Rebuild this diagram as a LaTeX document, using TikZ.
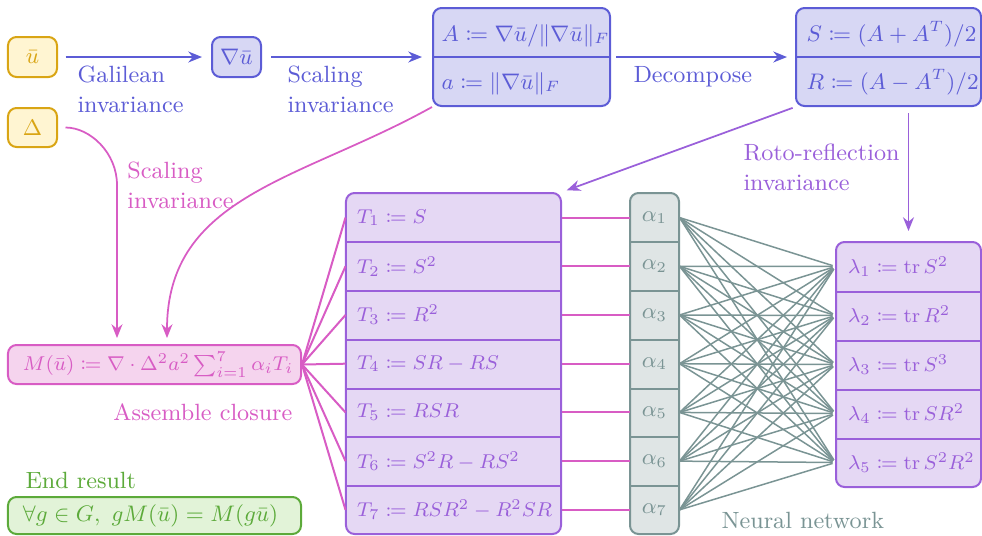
\documentclass[tikz,border=0pt]{standalone}
\usepackage{amsmath,amssymb,mathtools}
\usetikzlibrary{arrows.meta}
\definecolor{cyl}{HTML}{D9A514}
\definecolor{cylf}{HTML}{FFF5D2}
\definecolor{cbl}{HTML}{5C5CD6}
\definecolor{cblf}{HTML}{D7D7F4}
\definecolor{cpu}{HTML}{9A60DA}
\definecolor{cpuf}{HTML}{E5D8F4}
\definecolor{cmg}{HTML}{D85CC4}
\definecolor{cmgf}{HTML}{F5D4EE}
\definecolor{cgy}{HTML}{7A9494}
\definecolor{cgyf}{HTML}{DFE5E5}
\definecolor{cgn}{HTML}{5CAA3A}
\definecolor{cgnf}{HTML}{E2F3D8}
\begin{document}
\begin{tikzpicture}[x=0.4pt,y=-0.4pt,
  font=\fontsize{9.4pt}{12pt}\selectfont,
  frame/.style={draw, rounded corners=3.4pt, line width=0.8pt, inner sep=0pt},
  lbl/.style={anchor=north west, inner sep=0pt, align=left},
  arr/.style={line width=0.7pt, -{Stealth[length=5.5pt,width=4.4pt,inset=1.8pt]}},
  conn/.style={line width=0.8pt},
  nn/.style={line width=0.6pt},
  sep/.style={line width=0.8pt},
  trow/.style={minimum width=86pt, minimum height=19.49pt, inner xsep=4.4pt, inner ysep=0pt, text width=77.2pt, align=left, text=cpu, font=\fontsize{8.5pt}{10pt}\selectfont},
  arow/.style={minimum width=19.6pt, minimum height=19.49pt, inner sep=0pt, text=cgy, font=\fontsize{9pt}{10pt}\selectfont},
  lrow/.style={minimum width=58pt, minimum height=19.6pt, inner xsep=4.8pt, inner ysep=0pt, text width=48.4pt, align=left, text=cpu, font=\fontsize{8.2pt}{10pt}\selectfont},
  wide/.style={frame, minimum width=117.2pt, inner xsep=6pt, text width=105.2pt, align=left}
]
\useasboundingbox (0,0) rectangle (982,535);

% top row
\node[frame, draw=cyl, fill=cylf, text=cyl, minimum width=19.6pt, minimum height=16pt] (u) at (32.5,57) {$\bar u$};
\node[frame, draw=cyl, fill=cylf, text=cyl, minimum width=19.6pt, minimum height=15.6pt] (d) at (32.5,127.5) {$\Delta$};
\node[frame, draw=cbl, fill=cblf, text=cbl, minimum width=19.6pt, minimum height=16pt] (gu) at (236.5,57) {$\nabla\bar u$};

\node[frame, draw=cbl, fill=cblf, minimum width=70.8pt, minimum height=39.2pt] (ab) at (521.5,57) {};
\draw[cbl, sep] (ab.west) -- (ab.east);
\node[anchor=base west, inner sep=0pt, text=cbl, font=\fontsize{9.2pt}{11pt}\selectfont] (ab1) at (441,41) {$A \coloneqq \nabla\bar u/\|\nabla\bar u\|_F$};
\node[anchor=base west, inner sep=0pt, text=cbl, font=\fontsize{9.2pt}{11pt}\selectfont] (ab2) at (441,89) {$a \coloneqq \|\nabla\bar u\|_F$};

\node[frame, draw=cbl, fill=cblf, minimum width=74pt, minimum height=39.2pt] (sr) at (888.5,57) {};
\draw[cbl, sep] (sr.west) -- (sr.east);
\node[anchor=base west, inner sep=0pt, text=cbl, font=\fontsize{9pt}{11pt}\selectfont] (sr1) at (806,41) {$S \coloneqq (A+A^T)/2$};
\node[anchor=base west, inner sep=0pt, text=cbl, font=\fontsize{9pt}{11pt}\selectfont] (sr2) at (806,89) {$R \coloneqq (A-A^T)/2$};

% T box
\node[frame, draw=cpu, fill=cpuf, minimum width=86pt, minimum height=136.4pt] (tb) at (453.5,363.5) {};
\foreach \i/\txt in {1/{T_1 \coloneqq S}, 2/{T_2 \coloneqq S^2}, 3/{T_3 \coloneqq R^2}, 4/{T_4 \coloneqq SR-RS}, 5/{T_5 \coloneqq RSR}, 6/{T_6 \coloneqq S^2R-RS^2}, 7/{T_7 \coloneqq RSR^2-R^2SR}}
  \node[trow] (t\i) at (453.5,{193.2+48.714*(\i-0.5)}) {\mbox{$\txt$}};
\foreach \i in {1,...,6} \draw[cpu, sep] (t\i.south west) -- (t\i.south east);

% alpha box
\node[frame, draw=cgy, fill=cgyf, minimum width=19.6pt, minimum height=136.4pt] (ab0) at (654.5,363.5) {};
\foreach \i in {1,...,7}
  \node[arow] (a\i) at (654.5,{193.2+48.714*(\i-0.5)}) {$\alpha_{\i}$};
\foreach \i in {1,...,6} \draw[cgy, sep] (a\i.south west) -- (a\i.south east);

% lambda box
\node[frame, draw=cpu, fill=cpuf, minimum width=58pt, minimum height=98pt] (lb) at (908.5,364.5) {};
\foreach \i/\txt in {1/{\lambda_1 \coloneqq \operatorname{tr} S^2}, 2/{\lambda_2 \coloneqq \operatorname{tr} R^2}, 3/{\lambda_3 \coloneqq \operatorname{tr} S^3}, 4/{\lambda_4 \coloneqq \operatorname{tr} SR^2}, 5/{\lambda_5 \coloneqq \operatorname{tr} S^2R^2}}
  \node[lrow] (l\i) at (908.5,{266.5+49*(\i-1)}) {\mbox{$\txt$}};
\foreach \i in {1,...,4} \draw[cpu, sep] (l\i.south west) -- (l\i.south east);

% M and result boxes
\node[wide, draw=cmg, fill=cmgf, text=cmg, minimum height=15.6pt, font=\fontsize{8.5pt}{10pt}\selectfont] (m) at (154.5,364.5) {\mbox{$M(\bar u) \coloneqq \nabla\cdot\Delta^2 a^2 \sum_{i=1}^7 \alpha_i T_i$}};
\node[wide, draw=cgn, fill=cgnf, text=cgn, minimum height=14.8pt, font=\fontsize{8.7pt}{10pt}\selectfont] (g) at (154.5,515.5) {\mbox{$\forall g\in G,\ gM(\bar u) = M(g\bar u)$}};

\coordinate (c1) at (117,185);
\coordinate (m1) at (117,345);
\coordinate (m2) at (167,345);

% connectors
\draw[arr, cbl, shorten <=3pt, shorten >=3.6pt] (u) -- (gu);
\draw[arr, cbl, shorten <=3.6pt, shorten >=4pt] (gu) -- (ab);
\draw[arr, cbl, shorten <=2pt, shorten >=3.2pt] (ab) -- (sr);
\draw[arr, cpu, shorten <=1pt, shorten >=2pt] (sr.south west) -- (tb.north east);
\draw[arr, cpu, shorten <=2.4pt, shorten >=4pt] (sr.south -| lb.north) -- (lb.north);
\draw[arr, cmg, shorten <=3pt, shorten >=2.8pt] (d.east) to[out=0,in=90] (c1) -- (m1);
\draw[arr, cmg, shorten >=2.8pt] (ab.south west) .. controls +(-131,73) and +(0,-150) .. (m2);

\foreach \i in {1,...,7} {
  \draw[conn, cmg] (m.east) -- (t\i.west);
  \draw[conn, cmg] (t\i.east) -- (a\i.west);
  \foreach \j in {1,...,5}
    \draw[nn, cgy, shorten >=1.2pt] (a\i.east) -- (l\j.west);
}

% labels
\node[lbl, text=cbl] (lg) at (77,65.5) {Galilean\\invariance};
\node[lbl, text=cbl] (ls) at (287,65.5) {Scaling\\invariance};
\node[lbl, text=cbl] (ld) at (633,65.5) {Decompose};
\node[lbl, text=cpu] (lr) at (743,143.5) {Roto-reflection\\invariance};
\node[lbl, text=cmg] (lsc) at (127,161.5) {Scaling\\invariance};
\node[lbl, text=cmg] (la) at (113,403) {Assemble closure};
\node[lbl, text=cgn] (le) at (25,472) {End result};
\node[lbl, text=cgy] (ln) at (721,512) {Neural network};
\end{tikzpicture}
\end{document}
